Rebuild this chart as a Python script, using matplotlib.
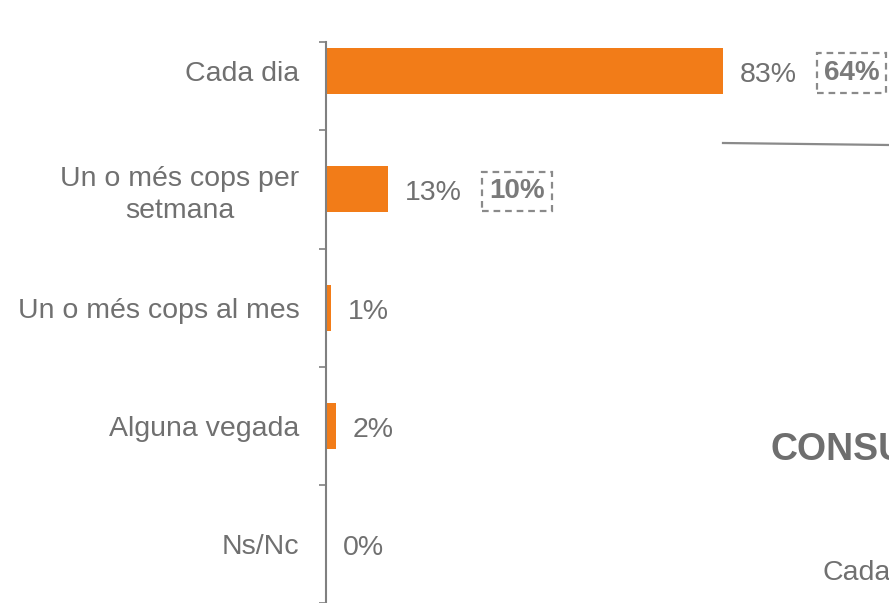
import matplotlib.pyplot as plt
from matplotlib.lines import Line2D

# data
categories = ["Cada dia", "Un o més cops per\nsetmana", "Un o més cops al mes",
              "Alguna vegada", "Ns/Nc"]
values = [83, 13, 1, 2, 0]
boxed = [64, 10, None, None, None]   # values shown in dashed boxes

ORANGE = "#F27C18"
GRAY = "#707070"
AXGRAY = "#808080"

plt.rcParams['font.family'] = ['Liberation Sans', 'DejaVu Sans']

fig = plt.figure(figsize=(8.89, 6.03), dpi=100)
ax = fig.add_axes([326 / 889, 0, 478 / 889, 561 / 603])

pos = list(range(len(categories)))
ax.barh(pos, values, height=0.39, color=ORANGE)

y_top = -0.248
ax.set_ylim(4.466, y_top)
ax.set_xlim(0, 100)

# value labels
for p, v, b in zip(pos, values, boxed):
    ax.annotate(f"{v}%", xy=(v, p), xytext=(17, -1), textcoords="offset pixels",
                ha="left", va="center_baseline", fontsize=20.5, color=GRAY)
    if b is not None:
        ax.annotate(f"{b}%", xy=(v, p), xytext=(101, 1), textcoords="offset pixels",
                    ha="left", va="center_baseline", fontsize=20, fontweight="bold",
                    color="#7a7a7a",
                    bbox=dict(boxstyle="square,pad=0.25", fc="none", ec="#8a8a8a",
                              lw=1.6, ls=(0, (3, 2.2))))

# axes styling
for s in ["top", "right", "bottom"]:
    ax.spines[s].set_visible(False)
ax.spines["left"].set_color(AXGRAY)
ax.spines["left"].set_linewidth(1.5)
ax.set_xticks([])
ax.set_yticks([y_top, 0.5, 1.5, 2.5, 3.5, 4.5])
ax.set_yticklabels([])
ax.tick_params(axis="y", which="major", length=5, width=1.2, color=AXGRAY)
ax.set_yticks(pos, minor=True)
ax.set_yticklabels(categories, minor=True, fontsize=20.5, color=GRAY, linespacing=1.3)
ax.tick_params(axis="y", which="minor", length=0, pad=19)
for lbl in ax.get_yticklabels(minor=True):
    lbl.set_multialignment("center")
    lbl.set_verticalalignment("center_baseline")

# pieces of the neighbouring chart, cut by the frame
fig.add_artist(Line2D([723 / 889, 1.0], [1 - 143 / 603, 1 - 145 / 603],
                      color="#8a8a8a", lw=1.6))
fig.text(770 / 889, 1 - 450 / 603, "CONSU", fontsize=27, fontweight="bold",
         color="#6e6e6e", ha="left", va="center")
fig.text(822 / 889, 1 - 573 / 603, "Cada", fontsize=20.5, color=GRAY,
         ha="left", va="center")

fig.savefig("out.png", dpi=100)
